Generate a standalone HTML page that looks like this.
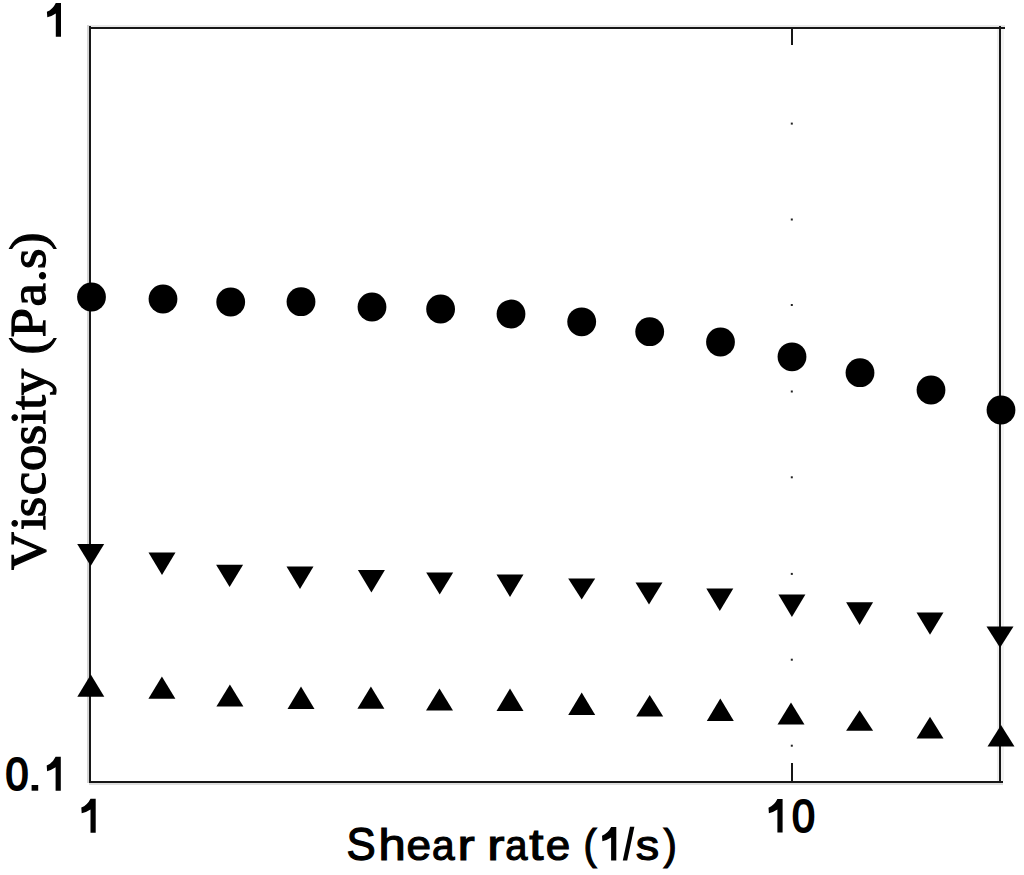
<!DOCTYPE html>
<html><head><meta charset="utf-8"><style>
html,body{margin:0;padding:0;background:#fff;width:1024px;height:875px;overflow:hidden}
svg{display:block}
</style></head><body>
<svg width="1024" height="875" viewBox="0 0 1024 875">
<rect width="1024" height="875" fill="#fff"/>
<g shape-rendering="crispEdges">
<rect x="87" y="25" width="2" height="758" fill="#d4d4d4"/>
<rect x="89" y="783" width="914" height="2" fill="#dedede"/>
<rect x="89" y="25" width="916" height="2" fill="#e8e8e8"/>
<rect x="997" y="27" width="2" height="754" fill="#ededed"/>
<rect x="1001" y="29" width="3" height="752" fill="#f2f2f2"/>
</g>
<g stroke="#171717" stroke-width="2" fill="none" shape-rendering="crispEdges">
<path d="M89 28 H1005 M90 26 V782 M1000 26 V782 M89 782 H1003"/>
<path d="M791.5 29 V45 M791.5 763 V781"/>
</g>
<g fill="#222">
<rect x="790.8" y="122.6" width="2" height="2"/>
<rect x="790.8" y="218.5" width="2" height="2"/>
<rect x="790.8" y="304.0" width="2" height="2"/>
<rect x="790.8" y="390.5" width="2" height="2"/>
<rect x="790.8" y="476.3" width="2" height="2"/>
<rect x="790.8" y="572.9" width="2" height="2"/>
<rect x="790.8" y="658.7" width="2" height="2"/>
<rect x="790.8" y="744.7" width="2" height="2"/>
</g>
<g fill="#000">
<circle cx="91.5" cy="297" r="14.4"/>
<circle cx="163" cy="299" r="14.4"/>
<circle cx="230.7" cy="302" r="14.4"/>
<circle cx="301" cy="301.7" r="14.4"/>
<circle cx="372" cy="307" r="14.4"/>
<circle cx="440.6" cy="309" r="14.4"/>
<circle cx="511" cy="314" r="14.4"/>
<circle cx="581.7" cy="321.8" r="14.4"/>
<circle cx="649.7" cy="331.7" r="14.4"/>
<circle cx="720.5" cy="342" r="14.4"/>
<circle cx="792" cy="356.8" r="14.4"/>
<circle cx="860" cy="372.7" r="14.4"/>
<circle cx="931" cy="390" r="14.4"/>
<circle cx="1001" cy="410" r="14.4"/>
<path d="M77.2 544 L104.2 544 L90.7 566 Z"/>
<path d="M148.5 552.5 L175.5 552.5 L162.0 575 Z"/>
<path d="M216.1 564.8 L243.1 564.8 L229.6 587 Z"/>
<path d="M286.5 566.6 L313.5 566.6 L300.0 589 Z"/>
<path d="M357.9 570 L384.9 570 L371.4 592.6 Z"/>
<path d="M426.2 572.5 L453.2 572.5 L439.7 594.5 Z"/>
<path d="M496.5 574.6 L523.5 574.6 L510.0 597 Z"/>
<path d="M568.2 578.5 L595.2 578.5 L581.7 599.6 Z"/>
<path d="M635.5 582.5 L662.5 582.5 L649.0 604.5 Z"/>
<path d="M706.3 588.6 L733.3 588.6 L719.8 611 Z"/>
<path d="M778.4 594.4 L805.4 594.4 L791.9 616.9 Z"/>
<path d="M846.1 602.2 L873.1 602.2 L859.6 625 Z"/>
<path d="M916.5 612.5 L943.5 612.5 L930.0 634.7 Z"/>
<path d="M986.5 626.4 L1013.5 626.4 L1000.0 647.8 Z"/>
<path d="M77.3 696.7 L104.3 696.7 L90.8 674.6 Z"/>
<path d="M148.4 698.7 L175.4 698.7 L161.9 676.6 Z"/>
<path d="M216.4 706.5 L243.4 706.5 L229.9 684.4 Z"/>
<path d="M287.5 709 L314.5 709 L301.0 686.6 Z"/>
<path d="M357.4 708.7 L384.4 708.7 L370.9 686.6 Z"/>
<path d="M426.0 710.6 L453.0 710.6 L439.5 688.6 Z"/>
<path d="M496.5 711 L523.5 711 L510.0 688.6 Z"/>
<path d="M568.2 714.9 L595.2 714.9 L581.7 692.5 Z"/>
<path d="M636.2 716.5 L663.2 716.5 L649.7 695 Z"/>
<path d="M706.8 721 L733.8 721 L720.3 698.6 Z"/>
<path d="M777.5 724.5 L804.5 724.5 L791.0 702.5 Z"/>
<path d="M846.1 730.8 L873.1 730.8 L859.6 710.3 Z"/>
<path d="M916.5 738.5 L943.5 738.5 L930.0 716.7 Z"/>
<path d="M987.5 746.5 L1014.5 746.5 L1001.0 724.9 Z"/>
</g>
<g fill="#000">
<path d="M55.80 3.00 L61.00 3.00 L61.00 36.80 L55.80 36.80 L55.80 13.54 Q51.80 16.32 47.30 17.32 L46.90 11.75 Q52.68 9.56 55.80 3.00 Z"/>
<path d="M55.60 756.80 L60.80 756.80 L60.80 790.70 L55.60 790.70 L55.60 767.37 Q51.59 770.16 47.10 771.16 L46.70 765.57 Q52.48 763.38 55.60 756.80 Z"/>
<path d="M90.50 798.80 L95.70 798.80 L95.70 832.80 L90.50 832.80 L90.50 809.40 Q86.36 812.20 81.70 813.20 L81.30 807.60 Q87.28 805.40 90.50 798.80 Z"/>
<path d="M777.40 799.10 L782.60 799.10 L782.60 832.50 L777.40 832.50 L777.40 809.51 Q773.39 812.26 768.90 813.25 L768.50 807.74 Q774.28 805.58 777.40 799.10 Z"/>
<path d="M611.10 827.00 L616.30 827.00 L616.30 860.60 L611.10 860.60 L611.10 837.48 Q607.00 840.24 602.40 841.23 L602.00 835.70 Q607.91 833.52 611.10 827.00 Z"/>
<rect x="31.6" y="785" width="6.6" height="5.7"/>
<path d="M630.0 826.8 L634.4 826.8 L627.2 860.6 L622.8 860.6 Z"/>
</g>
<g font-family="Liberation Sans, sans-serif" font-size="47" fill="#000" stroke="#000" stroke-width="1.3">
<text transform="translate(6.8 790.1) scale(0.88 1.0)" x="-1.6" y="0" stroke-width="2">0</text>
<text transform="translate(793.4 831.9) scale(0.88 1.0)" x="-1.6" y="0" stroke-width="2">0</text>
<text transform="translate(346.52 859.70) scale(0.931 0.989)">S</text>
<text transform="translate(378.58 859.98) scale(1.041 0.953)">h</text>
<text transform="translate(406.44 859.90) scale(0.938 0.906)">e</text>
<text transform="translate(431.94 859.90) scale(0.865 0.906)">a</text>
<text transform="translate(457.50 860.01) scale(1.100 0.910)">r</text>
<text transform="translate(487.20 860.01) scale(1.100 0.910)">r</text>
<text transform="translate(505.19 859.90) scale(0.850 0.898)">a</text>
<text transform="translate(529.23 859.94) scale(1.086 0.948)">t</text>
<text transform="translate(545.64 859.90) scale(0.936 0.898)">e</text>
<text transform="translate(583.48 858.82) scale(0.850 0.923)">(</text>
<text transform="translate(635.74 860.01) scale(0.996 0.890)">s</text>
<text transform="translate(663.47 858.82) scale(0.850 0.923)">)</text>
</g>
<text transform="translate(45.0 570) rotate(-90) scale(1 0.95)" x="0.0 39.8 52.7 74.8 99.1 124.8 145.5 160.3 174.8 215.5 232.8 263.4 287.8 301.0 319.9" y="0" font-family="Liberation Serif, serif" font-size="52.5" fill="#000" stroke="#000" stroke-width="1.3">Viscosity(Pa.s)</text>
</svg>
</body></html>
